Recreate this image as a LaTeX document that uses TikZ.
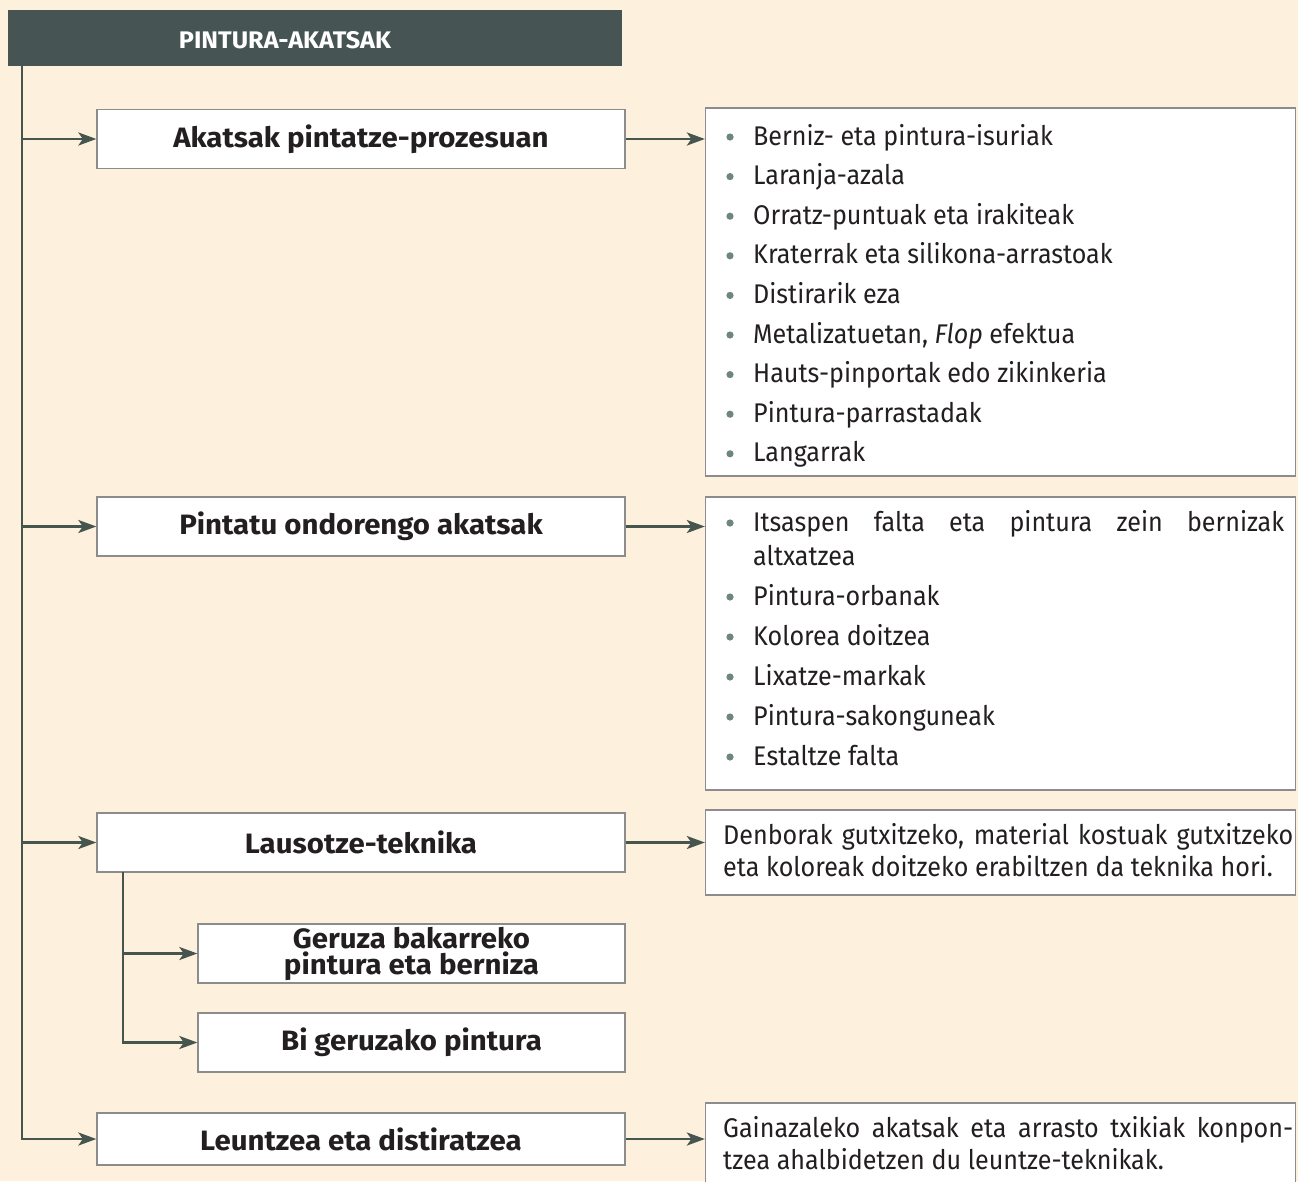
\documentclass[tikz,border=0pt]{standalone}
\usepackage{fontspec}
\setmainfont{Fira Sans}[FakeStretch=0.93]
\newfontfamily\bfam{Fira Sans}[FakeStretch=1.05]
\usetikzlibrary{arrows.meta}
\definecolor{bg}{HTML}{FDF1DD}
\definecolor{hdrc}{HTML}{465553}
\definecolor{linec}{HTML}{47554F}
\definecolor{boxc}{HTML}{8C8C8C}
\definecolor{bulc}{HTML}{6E8581}
\definecolor{txt}{HTML}{231F20}
\begin{document}
\begin{tikzpicture}[x=1pt,y=-1pt,
  conn/.style={draw=linec, line width=2.6pt, -{Stealth[length=18pt,width=13pt,inset=4.5pt]}},
  mainbox/.style={draw=boxc, line width=1.3pt, fill=white, inner sep=0pt,
    minimum width=528pt, minimum height=59pt, text=txt,
    font=\bfam\fontsize{28}{26}\selectfont\bfseries, align=center},
  subbox/.style={mainbox, minimum width=427pt},
  listbox/.style={draw=boxc, line width=1.3pt, fill=white, inner sep=0pt},
  itemtxt/.style={anchor=base west, inner sep=0pt, text=txt, font=\fontsize{27}{30}\selectfont},
  hdrbox/.style={fill=hdrc, inner sep=0pt, minimum width=614pt, minimum height=56pt},
  hdrtxt/.style={text=white, font=\bfam\fontsize{24}{26}\selectfont\bfseries, inner sep=0pt}
]
\fill[bg] (0,0) rectangle (1298,1181);
\useasboundingbox (0,0) rectangle (1298,1181);
\clip (0,0) rectangle (1298,1181);

% header
\node[hdrbox] (hdr) at (315,38) {};
\node[hdrtxt] (hdrt) at (285,40) {PINTURA-AKATSAK};

% main boxes
\node[mainbox] (b1) at (361,139) {Akatsak pintatze-prozesuan};
\node[mainbox] (b2) at (361,526.5) {Pintatu ondorengo akatsak};
\node[mainbox] (b3) at (361,842.5) {Lausotze-teknika};
\node[mainbox, minimum height=52pt] (b4) at (361,1139) {Leuntzea eta distiratzea};
\node[subbox] (g1) at (411.5,953.5) {Geruza bakarreko\\pintura eta berniza};
\node[subbox] (g2) at (411.5,1042.5) {Bi geruzako pintura};

% right boxes
\node[listbox, minimum width=590pt, minimum height=368pt] (l1) at (1000.5,292) {};
\node[listbox, minimum width=590pt, minimum height=293pt] (l2) at (1000.5,643.5) {};
\node[listbox, minimum width=590pt, minimum height=85pt] (d3) at (1000.5,852.5) {};
\node[listbox, minimum width=590pt, minimum height=110pt] (d4) at (1000.5,1158) {};

% list 1
\foreach \t [count=\i from 0] in {Berniz- eta pintura-isuriak, Laranja-azala,
  Orratz-puntuak eta irakiteak, Kraterrak eta silikona-arrastoak, Distirarik eza,
  {Metalizatuetan, \textit{Flop} efektua}, Hauts-pinportak edo zikinkeria,
  Pintura-parrastadak, Langarrak}{
  \node[itemtxt] (la\i) at (753,{145+39.6*\i}) {\t};
  \fill[bulc] (730,{137+39.6*\i}) circle (3.6pt);
}

% list 2
\node[itemtxt] (lb0) at (753,531) {\makebox[531pt][s]{Itsaspen falta eta pintura zein bernizak}};
\node[itemtxt] (lb0b) at (753,565) {altxatzea};
\fill[bulc] (730,523) circle (3.6pt);
\foreach \t [count=\i from 0] in {Pintura-orbanak, Kolorea doitzea, Lixatze-markak,
  Pintura-sakonguneak, Estaltze falta}{
  \node[itemtxt] (lb\i x) at (753,{605+40*\i}) {\t};
  \fill[bulc] (730,{597+40*\i}) circle (3.6pt);
}

% descriptions
\node[itemtxt] (d3a) at (723,844) {\makebox[570pt][s]{Denborak gutxitzeko, material kostuak gutxitzeko}};
\node[itemtxt] (d3b) at (723,876) {eta koloreak doitzeko erabiltzen da teknika hori.};
\node[itemtxt] (d4a) at (723,1137) {\makebox[570pt][s]{Gainazaleko akatsak eta arrasto txikiak konpon-}};
\node[itemtxt] (d4b) at (723,1169) {tzea ahalbidetzen du leuntze-teknikak.};

% trunk
\coordinate (t0) at (22,66);
\draw[conn] (t0) |- (b4.west);
\draw[conn] (t0 |- b1.west) -- (b1.west);
\draw[conn] (t0 |- b2.west) -- (b2.west);
\draw[conn] (t0 |- b3.west) -- (b3.west);

% sub branch
\coordinate (s0) at (123,872);
\draw[conn] (s0) |- (g1.west);
\draw[conn] (s0) |- (g2.west);

% right arrows
\draw[conn] (b1.east) -- (b1.east -| l1.west);
\draw[conn] (b2.east) -- (b2.east -| l2.west);
\draw[conn] (b3.east) -- (b3.east -| d3.west);
\draw[conn] (b4.east) -- (b4.east -| d4.west);
\end{tikzpicture}
\end{document}
